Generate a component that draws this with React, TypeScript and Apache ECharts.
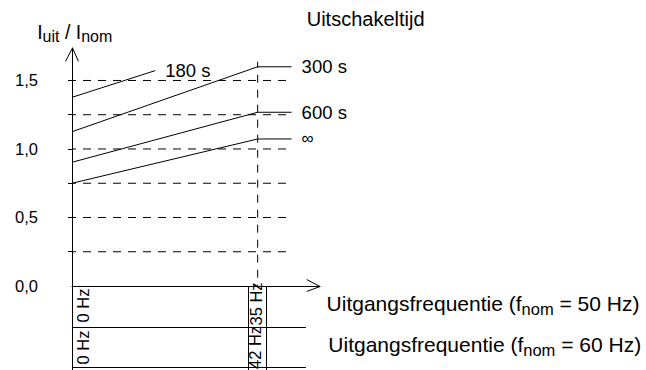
import React, { useEffect, useRef } from "react";
import * as echarts from "echarts";

const FONT = '"Liberation Sans", Arial, Helvetica, sans-serif';

// ---- axis ranges (x: frequency in Hz for f_nom = 50 Hz, y: I_uit / I_nom) ----
const X_MAX = 46.75;
const Y_MAX = 1.737;
const Y_LABEL_VALUES = [0, 0.5, 1.0, 1.5];
const GUIDE_LEVELS = [0.25, 0.5, 0.75, 1.0, 1.25, 1.5];
const GUIDE_END = 41.4;
const MARK_FREQ = 35; // Hz at f_nom = 50 Hz
const MARK_TOP = 1.637;

// ---- frequency rows of the table below the x axis ----
const NOMINALS = [50, 60];
const ROW_TICKS_50 = [0, 35];
const ROW_TICKS_60 = [0, 42];

// ---- trip-time curves ----
const CURVE_NAMES = ["180 s", "300 s", "600 s", "\u221E"];
const curve180 = [
  [0, 1.377],
  [15.7, 1.572],
];
const curve300 = [
  [0, 1.126],
  [35, 1.6],
  [41.4, 1.6],
];
const curve600 = [
  [0, 0.903],
  [35, 1.268],
  [41.4, 1.268],
];
const curveInf = [
  [0, 0.75],
  [35, 1.073],
  [41.4, 1.073],
];
const CURVES = [curve180, curve300, curve600, curveInf];

const Y_TITLE = ["I", "uit", " / I", "nom"];
const LEGEND_TITLE = "Uitschakeltijd";
const X_TITLE_MAIN = "Uitgangsfrequentie (f";
const X_TITLE_SUB = "nom";

let measureCtx: CanvasRenderingContext2D | null = null;
function measure(text: string, size: number): number {
  if (!measureCtx) measureCtx = document.createElement("canvas").getContext("2d");
  measureCtx!.font = `${size}px ${FONT}`;
  return measureCtx!.measureText(text).width;
}

type Run = { text: string; size: number; dy: number };
function textRun(x: number, baseline: number, runs: Run[]) {
  const els: any[] = [];
  let cx = x;
  for (const r of runs) {
    const lead = (r.text.match(/^ */) as RegExpMatchArray)[0];
    const body = r.text.slice(lead.length);
    els.push({
      type: "text",
      x: cx + measure(lead, r.size),
      y: baseline + r.dy - 0.3465 * r.size,
      silent: true,
      style: {
        text: body,
        fontSize: r.size,
        fontFamily: FONT,
        fill: "#000",
        align: "left",
        verticalAlign: "middle",
      },
    });
    cx += measure(r.text, r.size);
  }
  return els;
}

const crisp = (v: number) => Math.round(v) + 0.5;

export default function App() {
  const ref = useRef<HTMLDivElement>(null);

  useEffect(() => {
    const chart = echarts.init(ref.current!, null, { renderer: "svg" });

    const dashed = { color: "#000", width: 1, type: [8, 7] as number[], dashOffset: 4 };

    const guideSeries = GUIDE_LEVELS.map((lvl) => ({
      type: "line",
      data: [
        [0, lvl],
        [GUIDE_END, lvl],
      ],
      symbol: "none",
      silent: true,
      lineStyle: dashed,
      z: 2,
    }));

    const markSeries = {
      type: "line",
      data: [
        [MARK_FREQ, MARK_TOP],
        [MARK_FREQ, 0],
      ],
      symbol: "none",
      silent: true,
      lineStyle: { color: "#000", width: 1, type: [8, 7] as number[], dashOffset: 2 },
      z: 2,
    };

    const curveSeries = CURVES.map((data, i) => ({
      type: "line",
      name: CURVE_NAMES[i],
      data,
      symbol: "none",
      silent: true,
      lineStyle: { color: "#000", width: 1 },
      endLabel: {
        show: true,
        formatter: () => CURVE_NAMES[i],
        color: "#000",
        fontSize: i === 3 ? 17 : 18.5,
        fontFamily: FONT,
        distance: 10,
      },
      z: 3,
    }));

    chart.setOption({
      animation: false,
      backgroundColor: "#fff",
      textStyle: { fontFamily: FONT },
      grid: { left: 72, top: 48, width: 248, height: 238, containLabel: false },
      xAxis: {
        type: "value",
        min: 0,
        max: X_MAX,
        axisLine: { show: true, onZero: false, lineStyle: { color: "#000", width: 1 } },
        axisTick: { show: false },
        axisLabel: { show: false },
        splitLine: { show: false },
      },
      yAxis: {
        type: "value",
        min: 0,
        max: Y_MAX,
        interval: 0.5,
        axisLine: { show: true, lineStyle: { color: "#000", width: 1 } },
        axisTick: {
          show: true,
          length: 4,
          customValues: GUIDE_LEVELS,
          lineStyle: { color: "#000", width: 1 },
        },
        axisLabel: {
          show: true,
          customValues: Y_LABEL_VALUES,
          formatter: (v: number) => v.toFixed(1).replace(".", ","),
          color: "#000",
          fontSize: 16.5,
          fontFamily: FONT,
          margin: 34,
        },
        splitLine: { show: false },
      },
      series: [...guideSeries, markSeries, ...curveSeries],
    });

    const px = (x: number, y: number) =>
      chart.convertToPixel({ gridIndex: 0 } as any, [x, y]) as number[];
    const [x0, y0] = px(0, 0);
    const [xEnd] = px(X_MAX, 0);
    const [, yTop] = px(0, Y_MAX);
    const [xMark] = px(MARK_FREQ, 0);
    const H = chart.getHeight();

    const line = (x1: number, y1: number, x2: number, y2: number) => ({
      type: "line",
      silent: true,
      shape: { x1, y1, x2, y2 },
      style: { stroke: "#000", lineWidth: 1 },
    });

    const rowH = 40.7;
    const tableRight = xEnd - 14;
    const els: any[] = [];

    // arrow heads
    els.push({
      type: "polyline",
      silent: true,
      shape: { points: [[x0 - 6.5, yTop + 13.4], [crisp(x0 - 0.5), yTop], [x0 + 6.5, yTop + 13.4]] },
      style: { stroke: "#000", lineWidth: 1, fill: "none" },
    });
    els.push({
      type: "polyline",
      silent: true,
      shape: { points: [[xEnd - 13.3, y0 - 6.5], [xEnd, crisp(y0 - 0.5)], [xEnd - 13.3, y0 + 5.5]] },
      style: { stroke: "#000", lineWidth: 1, fill: "none" },
    });

    // table below the axis
    els.push(line(crisp(x0 - 0.5), y0, crisp(x0 - 0.5), H));
    els.push(line(crisp(xMark - 9.4), y0, crisp(xMark - 9.4), H));
    els.push(line(crisp(xMark + 8.3), y0, crisp(xMark + 8.3), H));
    els.push(line(x0, crisp(y0 + rowH), tableRight, crisp(y0 + rowH)));
    els.push(line(x0, crisp(y0 + 2 * rowH - 0.5), tableRight, crisp(y0 + 2 * rowH - 0.5)));

    // rotated frequency labels in the two rows
    const rows = [ROW_TICKS_50, ROW_TICKS_60];
    rows.forEach((ticks, ri) => {
      ticks.forEach((f) => {
        const f50 = (f * NOMINALS[0]) / NOMINALS[ri];
        const [tx] = px(f50, 0);
        const dx = f === 0 ? 11 : ri === 0 ? -1.3 : -2.2;
        const cy = y0 + (ri === 0 ? (f === 0 ? 19.5 : 18) : 61.5);
        els.push({
          type: "text",
          x: tx + dx,
          y: cy,
          rotation: Math.PI / 2,
          silent: true,
          style: {
            text: `${f} Hz`,
            fontSize: 16.5,
            fontFamily: FONT,
            fill: "#000",
            align: "center",
            verticalAlign: "middle",
          },
        });
      });
    });

    // x titles for the two rows
    NOMINALS.forEach((nom, ri) => {
      els.push(
        ...textRun(xEnd + 6.6 + ri * 1.7, y0 + 25 + ri * 41, [
          { text: X_TITLE_MAIN, size: 21, dy: 0 },
          { text: X_TITLE_SUB, size: 16.5, dy: 4 },
          { text: ` = ${nom} Hz)`, size: 21, dy: 0 },
        ])
      );
    });

    // y title
    els.push(
      ...textRun(37.2, 39, [
        { text: Y_TITLE[0], size: 19.5, dy: 0 },
        { text: Y_TITLE[1], size: 16, dy: 2.7 },
        { text: Y_TITLE[2], size: 19.5, dy: 0 },
        { text: Y_TITLE[3], size: 16, dy: 2.7 },
      ])
    );

    // legend title
    els.push(...textRun(306.7, 25.7, [{ text: LEGEND_TITLE, size: 20, dy: 0 }]));

    chart.setOption({ graphic: { elements: els } });

    return () => chart.dispose();
  }, []);

  return (
    <div
      ref={ref}
      style={{ position: "absolute", left: 0, top: 0, width: 646, height: 370, background: "#fff" }}
    />
  );
}
